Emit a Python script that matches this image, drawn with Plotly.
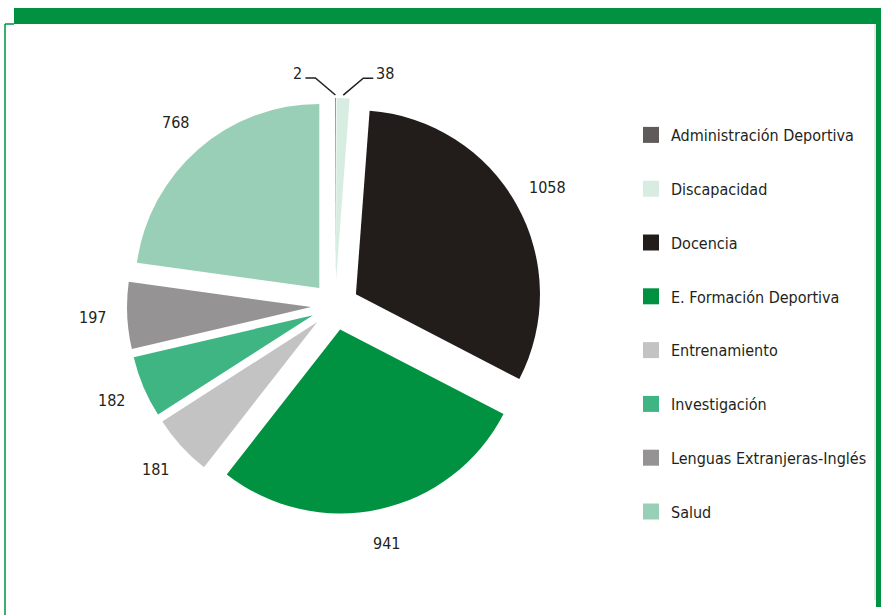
import math
import plotly.graph_objects as go

categories = ["Administración Deportiva", "Discapacidad", "Docencia",
              "E. Formación Deportiva", "Entrenamiento", "Investigación",
              "Lenguas Extranjeras-Inglés", "Salud"]
values = [2, 38, 1058, 941, 181, 182, 197, 768]
colors = ["#5f5b5b", "#d7ede2", "#221d1b", "#009241", "#c3c3c3",
          "#3fb583", "#959394", "#98cfb6"]

W, H = 881, 615
FONT = "DejaVu Sans Condensed, sans-serif"
FS = 16
TXT = "#231f20"
PULL = 0.13

def px(x):
    return x / W

def py(y):
    return 1 - y / H

# pie box in pixels
BX0, BX1, BY0, BY1 = 127, 543, 98, 514
total = sum(values)
small = [v / total < 0.02 for v in values]  # tiny slices get leader labels

fig = go.Figure()
fig.add_trace(go.Pie(
    labels=categories, values=values, sort=False, direction="clockwise",
    rotation=0, pull=[PULL] * len(values),
    marker=dict(colors=colors, line=dict(width=0)),
    textinfo="none",
    showlegend=False, hoverinfo="label+value",
    domain=dict(x=[px(BX0), px(BX1)], y=[py(BY1), py(BY0)]),
))

for c, col in zip(categories, colors):
    fig.add_trace(go.Scatter(
        x=[None], y=[None], mode="markers", name=c, legendgroup=c,
        marker=dict(symbol="square", size=16, color=col),
        showlegend=True,
    ))

shapes = [
    dict(type="rect", xref="paper", yref="paper", x0=px(14), x1=px(881),
         y0=py(24), y1=py(8), fillcolor="#009241", line=dict(width=0)),
    dict(type="rect", xref="paper", yref="paper", x0=px(876), x1=px(881),
         y0=py(607), y1=py(24), fillcolor="#009241", line=dict(width=0)),
    dict(type="line", xref="paper", yref="paper", x0=px(875), x1=px(875),
         y0=py(600), y1=py(24), line=dict(color="#d0d0d0", width=1)),
    dict(type="line", xref="paper", yref="paper", x0=px(5), x1=px(5),
         y0=py(615), y1=py(24), line=dict(color="#009241", width=1.5)),
    dict(type="line", xref="paper", yref="paper", x0=px(5), x1=px(14),
         y0=py(24), y1=py(24), line=dict(color="#009241", width=1.5)),
]

# value labels placed from the pie geometry (outside, along each mid-angle)
cx, cy = (BX0 + BX1) / 2, (BY0 + BY1) / 2
R = (BX1 - BX0) / 2 / (1 + PULL)
annotations = []
cum = 0
k = 0
for v, s in zip(values, small):
    mid = (cum + v / 2) / total * 2 * math.pi
    cum += v
    sx, sy = math.sin(mid), -math.cos(mid)
    pcx, pcy = cx + PULL * R * sx, cy + PULL * R * sy
    if not s:
        d = R * 1.19
        annotations.append(dict(xref="paper", yref="paper",
                                x=px(pcx + d * sx), y=py(pcy + d * sy),
                                text=str(v), showarrow=False,
                                xanchor="center", yanchor="middle",
                                font=dict(family=FONT, size=FS, color=TXT)))
        continue
    side = -1 if k == 0 else 1
    k += 1
    rr = R * (1 + PULL) + 3
    x0 = cx + rr * sx
    y0 = cy + rr * sy
    x1, y1 = x0 + side * 20, y0 - 17
    x2 = x1 + side * 10
    shapes.append(dict(type="path", xref="paper", yref="paper",
                       path=f"M {px(x0)} {py(y0)} L {px(x1)} {py(y1)} L {px(x2)} {py(y1)}",
                       line=dict(color=TXT, width=1.5)))
    annotations.append(dict(xref="paper", yref="paper", x=px(x2 + side * 1),
                            y=py(y1 - 5), text=str(v), showarrow=False,
                            xanchor="right" if side < 0 else "left",
                            yanchor="middle",
                            font=dict(family=FONT, size=FS, color=TXT)))

fig.update_layout(
    width=W, height=H, margin=dict(l=0, r=0, t=0, b=0, autoexpand=False),
    paper_bgcolor="white", plot_bgcolor="white",
    font=dict(family=FONT, size=FS, color=TXT),
    xaxis=dict(visible=False), yaxis=dict(visible=False),
    showlegend=True,
    legend=dict(x=px(631), y=py(118), xanchor="left", yanchor="top",
                font=dict(family=FONT, size=FS, color=TXT),
                tracegroupgap=30, bgcolor="rgba(0,0,0,0)",
                itemclick=False, itemdoubleclick=False),
    shapes=shapes, annotations=annotations,
)

fig.write_html("out.html",
               config={"displayModeBar": False},
               post_script="document.body.style.margin='0px';"
                           "document.body.style.padding='0px';")
